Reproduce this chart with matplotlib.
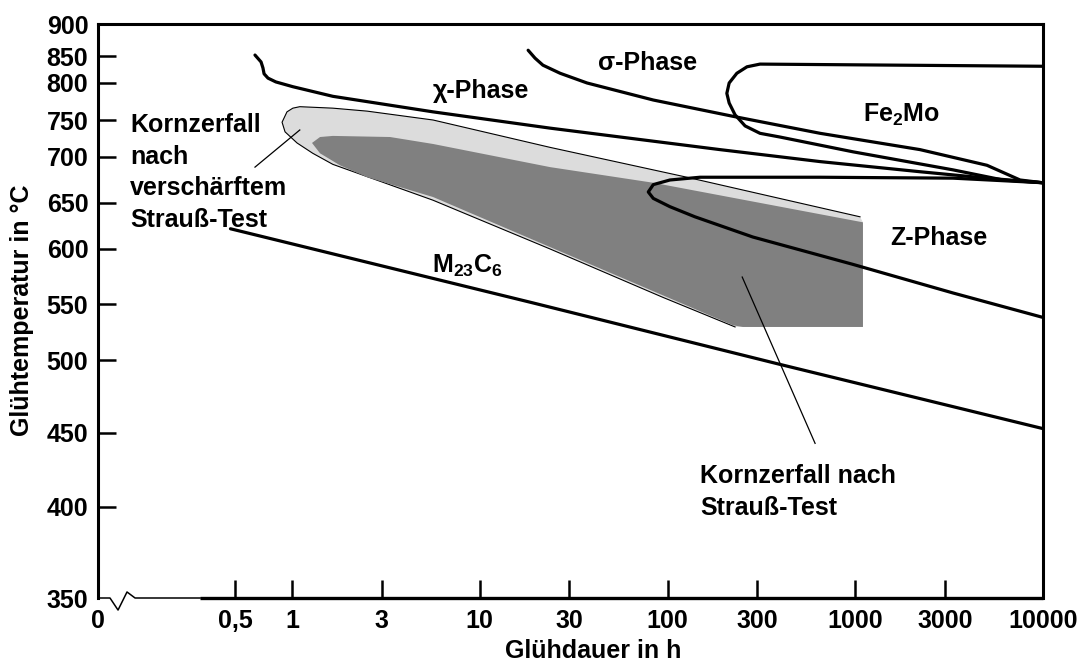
import numpy as np
import matplotlib
matplotlib.use('Agg')
import matplotlib.pyplot as plt
from matplotlib.ticker import NullLocator

plt.rcParams['font.family'] = ['Liberation Sans', 'DejaVu Sans']
plt.rcParams['font.weight'] = 'bold'
plt.rcParams['axes.labelweight'] = 'bold'
plt.rcParams['mathtext.fontset'] = 'custom'
plt.rcParams['mathtext.rm'] = 'Liberation Sans:bold'
plt.rcParams['mathtext.bf'] = 'Liberation Sans:bold'
plt.rcParams['mathtext.default'] = 'bf'

# temperature axis of the original is not linear: tick values and their relative heights
temp_ticks = [350, 400, 450, 500, 550, 600, 650, 700, 750, 800, 850, 900]
temp_pos = [0, 91, 165, 238, 294, 349, 395, 441, 478, 515, 542, 574]

time_ticks = [0.0926, 0.5, 1, 3, 10, 30, 100, 300, 1000, 3000, 10000]
time_labels = ['0', '0,5', '1', '3', '10', '30', '100', '300', '1000', '3000', '10000']

# phase boundaries (hours, degC)
chi_h = [0.635, 0.684, 0.70, 0.71, 0.745, 0.82, 1.01, 1.65, 5.64, 23.7, 56, 190, 650, 2210, 5030, 10000]
chi_T = [851.5, 839, 828, 817, 809, 802, 795, 782, 761, 739, 727, 710, 695, 684, 677, 672]

sigma_h = [18.1, 19.7, 21.7, 26.8, 37.3, 84, 223, 650, 2210, 5030, 7550, 10000]
sigma_T = [859, 846, 833, 818, 800, 777, 755, 732, 710, 691, 675, 672]

fe2mo_h = [10000, 1730, 311, 265, 234, 213, 207, 213, 229, 259, 311, 397, 973, 3320, 6120, 10000]
fe2mo_T = [831, 833, 835, 830, 818, 800, 786, 773, 757, 742, 732, 727, 707, 686, 675, 672]

z_h = [10000, 3320, 650, 149, 103, 84, 79, 84, 103, 140, 285, 973, 3320, 10000]
z_T = [672, 677, 678, 678, 675, 670, 662, 655, 646, 635, 613, 586, 560, 538]

m23c6_h = [0.47, 19.2, 397, 10000]
m23c6_T = [622, 551, 497, 453]

# grain disintegration fields
light_h = [1060, 127, 23.7, 5.64, 2.51, 1.65, 1.10, 1.01, 0.94, 0.885, 0.918, 1.063, 1.29, 1.65,
           5.64, 23.7, 94.6, 229, 1099, 1099]
light_T = [635, 678, 713, 750, 762, 766, 768, 766, 761, 747, 734, 719, 705, 692,
           653, 600, 556, 529.5, 529.5, 629]

dark_h = [1.278, 1.41, 1.65, 3.33, 5.64, 23.7, 84, 1099, 1099, 252, 223, 5.64, 2.51, 1.80, 1.41]
dark_T = [719, 727, 728.5, 727, 717.6, 689, 672, 629, 529.5, 529.5, 531, 656.5, 678, 691, 705]

lead1_h = [1.10, 0.635]
lead1_T = [736.5, 689]
lead2_h = [250, 611]
lead2_T = [574.5, 443]


def t_fwd(t):
    return np.interp(t, temp_ticks, temp_pos)


def t_inv(p):
    return np.interp(p, temp_pos, temp_ticks)


fig = plt.figure(figsize=(10.88, 6.65), dpi=100)
ax = fig.add_axes([98/1088, 67/665, 945/1088, 574/665])

ax.set_xscale('log')
ax.set_yscale('function', functions=(t_fwd, t_inv))
ax.set_xlim(time_ticks[0], time_ticks[-1])
ax.set_ylim(350, 900)

ax.fill(light_h, light_T, color='#dcdcdc', lw=0, zorder=1)
ax.plot(light_h[:18], light_T[:18], color='black', lw=0.8, zorder=2)
ax.fill(dark_h, dark_T, color='#808080', lw=0, zorder=3)

lw = 2.3
for h, T in [(chi_h, chi_T), (sigma_h, sigma_T), (fe2mo_h, fe2mo_T), (z_h, z_T), (m23c6_h, m23c6_T)]:
    ax.plot(h, T, color='black', lw=lw, solid_capstyle='round', solid_joinstyle='round', zorder=5)

ax.plot(lead1_h, lead1_T, color='black', lw=0.9, zorder=6)
ax.plot(lead2_h, lead2_T, color='black', lw=0.9, zorder=6)

fs = 18
ax.text(5.64, 779.7, 'χ-Phase', fontsize=fs, ha='left', va='baseline')
ax.text(42.6, 824, 'σ-Phase', fontsize=fs, ha='left', va='baseline')
ax.text(1100, 747, 'Fe$_2$Mo', fontsize=fs, ha='left', va='baseline')
ax.text(1531, 604.3, 'Z-Phase', fontsize=fs, ha='left', va='baseline')
ax.text(5.57, 578.2, 'M$_{23}$C$_6$', fontsize=fs, ha='left', va='baseline')
# multi-line texts: baseline refers to the last line
ax.text(0.137, 624, 'Kornzerfall\nnach\nverschärftem\nStrauß-Test', fontsize=fs,
        ha='left', va='baseline', linespacing=1.4)
ax.text(149, 395.6, 'Kornzerfall nach\nStrauß-Test', fontsize=fs,
        ha='left', va='baseline', linespacing=1.4)

# axes, ticks
ax.set_xticks(time_ticks, time_labels)
ax.set_yticks(temp_ticks, [str(t) for t in temp_ticks])
ax.xaxis.set_minor_locator(NullLocator())
ax.yaxis.set_minor_locator(NullLocator())
ax.tick_params(direction='in', length=13, width=1.8, labelsize=fs, top=False, right=False)
ax.tick_params(axis='x', pad=8)
ax.tick_params(axis='y', pad=7)
ax.xaxis.get_major_ticks()[0].tick1line.set_visible(False)
ax.yaxis.get_major_ticks()[0].tick1line.set_visible(False)
ax.yaxis.get_major_ticks()[-1].tick1line.set_visible(False)

for s in ['left', 'top', 'right']:
    ax.spines[s].set_linewidth(2.2)
ax.spines['bottom'].set_visible(False)

# bottom axis with break mark
ax.plot([0, 0.0127, 0.0212, 0.0307, 0.0392, 0.108], [0, 0, -0.021, 0.0105, 0, 0],
        transform=ax.transAxes, color='black', lw=1.1, clip_on=False, zorder=7)
ax.plot([0.108, 1.0], [0, 0], transform=ax.transAxes, color='black', lw=2.4,
        clip_on=False, solid_capstyle='butt', zorder=7)

ax.set_xlabel('Glühdauer in h', fontsize=fs, va='center')
ax.xaxis.set_label_coords((593 - 98) / 945, -53 / 574)
ax.set_ylabel('Glühtemperatur in °C', fontsize=fs, va='center')
ax.yaxis.set_label_coords(-0.0804, (598 - 310) / 574)

fig.savefig('out.png', dpi=100)
